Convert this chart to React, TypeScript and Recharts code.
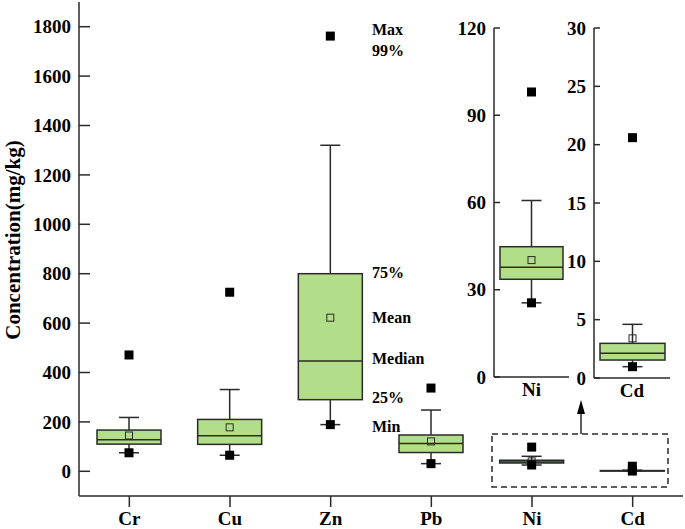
import React from 'react';
import { ComposedChart, Bar, XAxis, YAxis } from 'recharts';

const categories = ['Cr', 'Cu', 'Zn', 'Pb', 'Ni', 'Cd'];
const minVals = [75, 65, 189, 31, 25.5, 0.97];
const q1Vals = [110, 109, 290, 76, 33.6, 1.54];
const medianVals = [128, 144, 447, 113, 37.7, 2.12];
const meanVals = [145, 178, 622, 121, 40.2, 3.4];
const q3Vals = [167, 210, 800, 147, 44.8, 2.97];
const whiskerTopVals = [218, 331, 1320, 248, 60.7, 4.6];
const maxVals = [471, 725, 1762, 337, 98, 20.6];

const mainTicks = [0, 200, 400, 600, 800, 1000, 1200, 1400, 1600, 1800];
const niTicks = [0, 30, 60, 90, 120];
const cdTicks = [0, 5, 10, 15, 20, 25, 30];

const annotations = ['Max', '99%', '75%', 'Mean', 'Median', '25%', 'Min'];

const FONT = "'Liberation Serif', 'Times New Roman', serif";
const STROKE = '#2a2a2a';
const FILL = '#b3de89';

const rows = categories.map((name, i) => ({
  name,
  min: minVals[i],
  q1: q1Vals[i],
  median: medianVals[i],
  mean: meanVals[i],
  q3: q3Vals[i],
  wtop: whiskerTopVals[i],
  max: maxVals[i],
}));

const niRows = rows.filter((r) => r.name === 'Ni');
const cdRows = rows.filter((r) => r.name === 'Cd');

const rangeKey = (d: any) => [d.min, d.max];

const BoxShape = (props: any) => {
  const { x, y, width, height } = props;
  const p = props.payload || props;
  const top = Math.min(y, y + height);
  const bottom = Math.max(y, y + height);
  const lo = p.min;
  const hi = p.max;
  const py = (v: number) => bottom - ((v - lo) / (hi - lo)) * (bottom - top);
  const cx = x + width / 2;
  const cap = 10;
  const fs = 9;
  const ms = 7;
  const yQ1 = py(p.q1);
  const yQ3 = py(p.q3);
  return (
    <g>
      <line x1={cx} x2={cx} y1={yQ3} y2={py(p.wtop)} stroke={STROKE} strokeWidth={1.5} />
      <line x1={cx - cap} x2={cx + cap} y1={py(p.wtop)} y2={py(p.wtop)} stroke={STROKE} strokeWidth={1.5} />
      <line x1={cx} x2={cx} y1={yQ1} y2={py(p.min)} stroke={STROKE} strokeWidth={1.5} />
      <line x1={cx - cap} x2={cx + cap} y1={py(p.min)} y2={py(p.min)} stroke={STROKE} strokeWidth={1.5} />
      <rect x={x} y={yQ3} width={width} height={Math.max(yQ1 - yQ3, 0.5)} fill={FILL} stroke={STROKE} strokeWidth={1.5} />
      <line x1={x} x2={x + width} y1={py(p.median)} y2={py(p.median)} stroke={STROKE} strokeWidth={1.5} />
      <rect x={cx - ms / 2} y={py(p.mean) - ms / 2} width={ms} height={ms} fill="none" stroke={STROKE} strokeWidth={1} />
      <rect x={cx - fs / 2} y={py(p.min) - fs / 2} width={fs} height={fs} fill="#000" />
      <rect x={cx - fs / 2} y={py(p.max) - fs / 2} width={fs} height={fs} fill="#000" />
    </g>
  );
};

const makeLeftTick = (len: number) => (props: any) => {
  const { x, y, payload } = props;
  return (
    <g>
      <line x1={x} x2={x + len} y1={y} y2={y} stroke={STROKE} strokeWidth={1.5} />
      <text x={x - 8} y={y} dy="0.35em" textAnchor="end" fontFamily={FONT} fontWeight="bold" fontSize={19} fill="#000">
        {payload.value}
      </text>
    </g>
  );
};

const xTickStyle = { fontSize: 19, fontWeight: 'bold', fill: '#000', fontFamily: FONT } as any;

const Inset = ({ data, ticks, domain, yWidth, left }: any) => (
  <div style={{ position: 'absolute', left, top: 18 }}>
    <ComposedChart width={125} height={385 + (yWidth === 39 ? 1 : 0)} data={data} margin={{ top: 10, right: 10, left: 0, bottom: 0 }}>
      <XAxis dataKey="name" height={26} tickLine={false} tickSize={0} tickMargin={6} tick={xTickStyle} axisLine={{ stroke: STROKE, strokeWidth: 1.5 }} />
      <YAxis
        width={yWidth}
        domain={domain}
        ticks={ticks}
        allowDataOverflow
        tickSize={0}
        tickMargin={0}
        tickLine={false}
        tick={makeLeftTick(6)}
        axisLine={{ stroke: STROKE, strokeWidth: 1.5 }}
      />
      <Bar dataKey={rangeKey} barSize={yWidth === 39 ? 65 : 63} shape={<BoxShape />} isAnimationActive={false} />
    </ComposedChart>
  </div>
);

export default function App() {
  const aX = 372;
  const annY = [35, 56, 278, 323, 364, 403, 432];
  return (
    <div style={{ position: 'absolute', left: 0, top: 0, width: 685, height: 529, background: '#fff', fontFamily: FONT }}>
      <ComposedChart width={685} height={529} data={rows} margin={{ top: 2, right: 2, left: 0, bottom: 0 }}>
        <XAxis
          dataKey="name"
          height={33}
          tickSize={11}
          tickMargin={5}
          tick={xTickStyle}
          tickLine={{ stroke: STROKE, strokeWidth: 1.5 }}
          axisLine={{ stroke: STROKE, strokeWidth: 1.5 }}
        />
        <XAxis xAxisId="top" dataKey="name" orientation="top" height={0} tick={false} tickLine={false} axisLine={{ stroke: STROKE, strokeWidth: 1.5 }} />
        <YAxis
          width={79}
          domain={[-100, 1900]}
          ticks={mainTicks}
          allowDataOverflow
          tickSize={0}
          tickMargin={0}
          tickLine={false}
          tick={makeLeftTick(11)}
          axisLine={{ stroke: STROKE, strokeWidth: 1.5 }}
        />
        <YAxis yAxisId="right" orientation="right" width={0} domain={[-100, 1900]} tick={false} tickLine={false} axisLine={{ stroke: STROKE, strokeWidth: 1.5 }} />
        <Bar dataKey={rangeKey} barSize={64} shape={<BoxShape />} isAnimationActive={false} />
      </ComposedChart>

      <Inset data={niRows} ticks={niTicks} domain={[0, 120]} yWidth={40} left={454} />
      <Inset data={cdRows} ticks={cdTicks} domain={[0, 30]} yWidth={39} left={555} />

      <svg width={685} height={529} style={{ position: 'absolute', left: 0, top: 0, pointerEvents: 'none' }}>
        <text
          x={19.5}
          y={240}
          transform="rotate(-90, 19.5, 240)"
          textAnchor="middle"
          fontFamily={FONT}
          fontWeight="bold"
          fontSize={21}
          fill="#000"
        >
          Concentration(mg/kg)
        </text>
        {annotations.map((t, i) => (
          <text key={t} x={aX} y={annY[i]} fontFamily={FONT} fontWeight="bold" fontSize={16} fill="#000">
            {t}
          </text>
        ))}
        <rect x={492} y={434} width={176} height={53} fill="none" stroke={STROKE} strokeWidth={1.5} strokeDasharray="6 4" />
        <line x1={581} x2={581} y1={434} y2={412} stroke={STROKE} strokeWidth={1.5} />
        <polygon points="581,400 577,414 585,414" fill="#000" />
      </svg>
    </div>
  );
}
